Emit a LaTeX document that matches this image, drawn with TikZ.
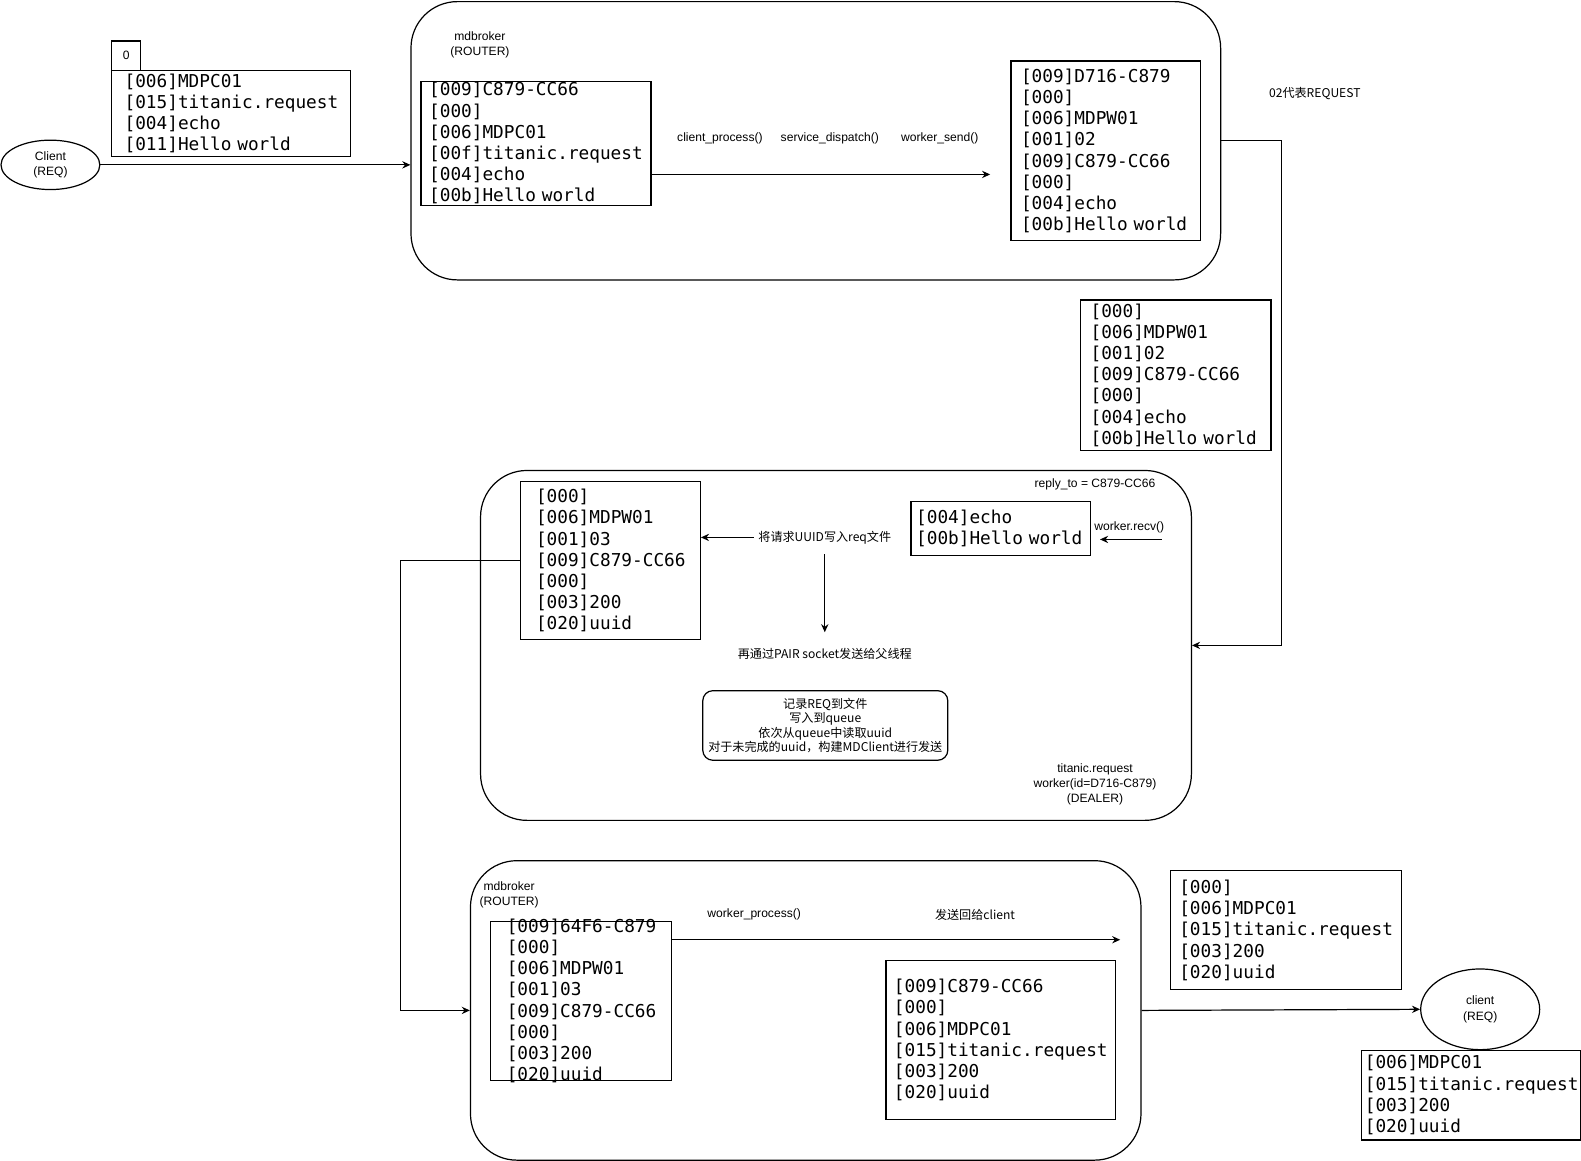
\documentclass[tikz,border=0pt]{standalone}
\usepackage{fontspec}
\setmainfont{Liberation Sans}
\newfontfamily\monofont{DejaVu Sans Mono}
\newfontfamily\cjk{Noto Sans CJK SC}
\usetikzlibrary{shapes.geometric,arrows.meta}
\exhyphenpenalty=10000
\hyphenpenalty=10000

\begin{document}
\begin{tikzpicture}[
	x=0.5pt, y=-0.5pt,
	frame/.style={
		rectangle,
		draw=black,
		line width=0.6pt,
		align=left,
		anchor=north west,
		inner ysep=0pt,
		font=\monofont\fontsize{8.8}{10.5}\selectfont
	},
	stage/.style={
		rectangle,
		draw=black,
		line width=0.6pt,
		rounded corners=23pt,
		anchor=north west
	},
	socket/.style={
		ellipse,
		draw=black,
		line width=0.6pt,
		align=center,
		inner sep=0pt,
		font=\fontsize{6}{7.5}\selectfont
	},
	txt/.style={
		align=center,
		inner sep=0pt,
		font=\fontsize{6}{7.5}\selectfont
	},
	flow/.style={
		line width=0.6pt,
		-{Stealth[length=4pt,width=3.6pt]}
	}
]
\useasboundingbox (0,0) rectangle (1568,1151);

\node[stage, minimum width=401.5pt, minimum height=138pt] (broker) at (407,1) {};
\node[stage, minimum width=352.5pt, minimum height=173.5pt] (titanic) at (476,466) {};
\node[stage, minimum width=332.5pt, minimum height=148.5pt] (brokerout) at (466,853) {};

\node[socket, minimum width=49pt, minimum height=24.5pt] (client) at (50,163.5) {Client\\(REQ)};
\node[socket, minimum width=59pt, minimum height=40pt] (clientback) at (1468,1001) {client\\(REQ)};

\node[frame, align=center, minimum width=14.5pt, minimum height=14.5pt, font=\fontsize{6}{7.5}\selectfont] (zero) at (110,40) {0};
\node[frame, text width=105.5pt, inner xsep=6.5pt, minimum height=42.5pt] (req) at (110,69.5)
{[006]MDPC01\\{}[015]titanic.request\\{}[004]echo\\{}[011]Hello world};

\node[txt] at (476,44.5) {mdbroker\\(ROUTER)};
\node[frame, text width=106pt, inner xsep=4pt, minimum height=61.5pt] (route) at (417,80)
{[009]C879-CC66\\{}[000]\\{}[006]MDPC01\\{}[00f]titanic.request\\{}[004]echo\\{}[00b]Hello world};

\node[txt] at (714,137) {client\_process()};
\node[txt] at (823,137) {service\_dispatch()};
\node[txt] at (932,137) {worker\_send()};

\node[frame, text width=84pt, inner xsep=5pt, minimum height=89pt] (dispatch) at (1002,60)
{[009]D716-C879\\{}[000]\\{}[006]MDPW01\\{}[001]02\\{}[009]C879-CC66\\{}[000]\\{}[004]echo\\{}[00b]Hello world};

\node[txt, font=\cjk\fontsize{6}{7.5}\selectfont] at (1304,93) {02代表REQUEST};

\node[frame, text width=84.5pt, inner xsep=5pt, minimum height=74.5pt] (request) at (1071,297)
{[000]\\{}[006]MDPW01\\{}[001]02\\{}[009]C879-CC66\\{}[000]\\{}[004]echo\\{}[00b]Hello world};

\node[frame, text width=74pt, inner xsep=7.5pt, minimum height=78.5pt] (record) at (516,477)
{[000]\\{}[006]MDPW01\\{}[001]03\\{}[009]C879-CC66\\{}[000]\\{}[003]200\\{}[020]uuid};
\node[frame, text width=84pt, inner xsep=2.5pt, minimum height=26.5pt] (body) at (903,497)
{[004]echo\\{}[00b]Hello world};

\node[txt] at (1086,480) {reply\_to = C879-CC66};
\node[txt] at (1120,523) {worker.recv()};
\node[txt, font=\cjk\fontsize{6}{7.5}\selectfont] (store) at (818,533) {将请求UUID写入req文件};
\node[txt, font=\cjk\fontsize{6}{7.5}\selectfont] (pair) at (818,649) {再通过PAIR socket发送给父线程};
\node[rectangle, draw=black, line width=0.6pt, rounded corners=5pt, minimum width=121.5pt, minimum height=34.5pt,
	inner sep=0pt, align=center, font=\cjk\fontsize{6}{7.2}\selectfont] (steps) at (818.5,719.5)
{记录REQ到文件\\写入到queue\\依次从queue中读取uuid\\对于未完成的uuid，构建MDClient进行发送};
\node[txt] at (1086,778) {titanic.request\\worker(id=D716-C879)\\(DEALER)};

\node[txt] at (505,887.5) {mdbroker\\(ROUTER)};
\node[frame, text width=73.5pt, inner xsep=8pt, inner ysep=-2pt, minimum height=79pt] (forward) at (486,913)
{[009]64F6-C879\\{}[000]\\{}[006]MDPW01\\{}[001]03\\{}[009]C879-CC66\\{}[000]\\{}[003]200\\{}[020]uuid};
\node[txt] at (748,907) {worker\_process()};
\node[txt, font=\cjk\fontsize{6}{7.5}\selectfont] at (967,907) {发送回给client};
\node[frame, text width=106pt, inner xsep=4pt, minimum height=79pt] (reply) at (878,952)
{[009]C879-CC66\\{}[000]\\{}[006]MDPC01\\{}[015]titanic.request\\{}[003]200\\{}[020]uuid};

\node[frame, text width=105.5pt, inner xsep=4.5pt, minimum height=59pt] (response) at (1160,863)
{[000]\\{}[006]MDPC01\\{}[015]titanic.request\\{}[003]200\\{}[020]uuid};
\node[frame, text width=105.5pt, inner xsep=1.5pt, minimum height=44.5pt] (result) at (1350,1041)
{[006]MDPC01\\{}[015]titanic.request\\{}[003]200\\{}[020]uuid};

\coordinate (sendend) at (982,173);
\coordinate (recvfrom) at (1152,535);
\coordinate (recvto) at (1091,535);
\coordinate (replyend) at (1111,932);

\draw[flow] (client.east) -- (client.east -| broker.west);
\draw[flow] (route.east |- sendend) -- (sendend);
\draw[flow] (broker.east) -- ++(60,0) |- (titanic.east);
\draw[flow] (recvfrom) -- (recvto);
\draw[flow, shorten <=2pt] (store.west) -- (store.west -| record.east);
\draw[flow, shorten <=5pt, shorten >=8pt] (store.south) -- (pair.north);
\draw[flow] (record.west) -- ++(-119,0) |- (brokerout.west);
\draw[flow] (forward.east |- replyend) -- (replyend);
\draw[flow] (brokerout.east) -- (clientback.west);

\end{tikzpicture}
\end{document}
